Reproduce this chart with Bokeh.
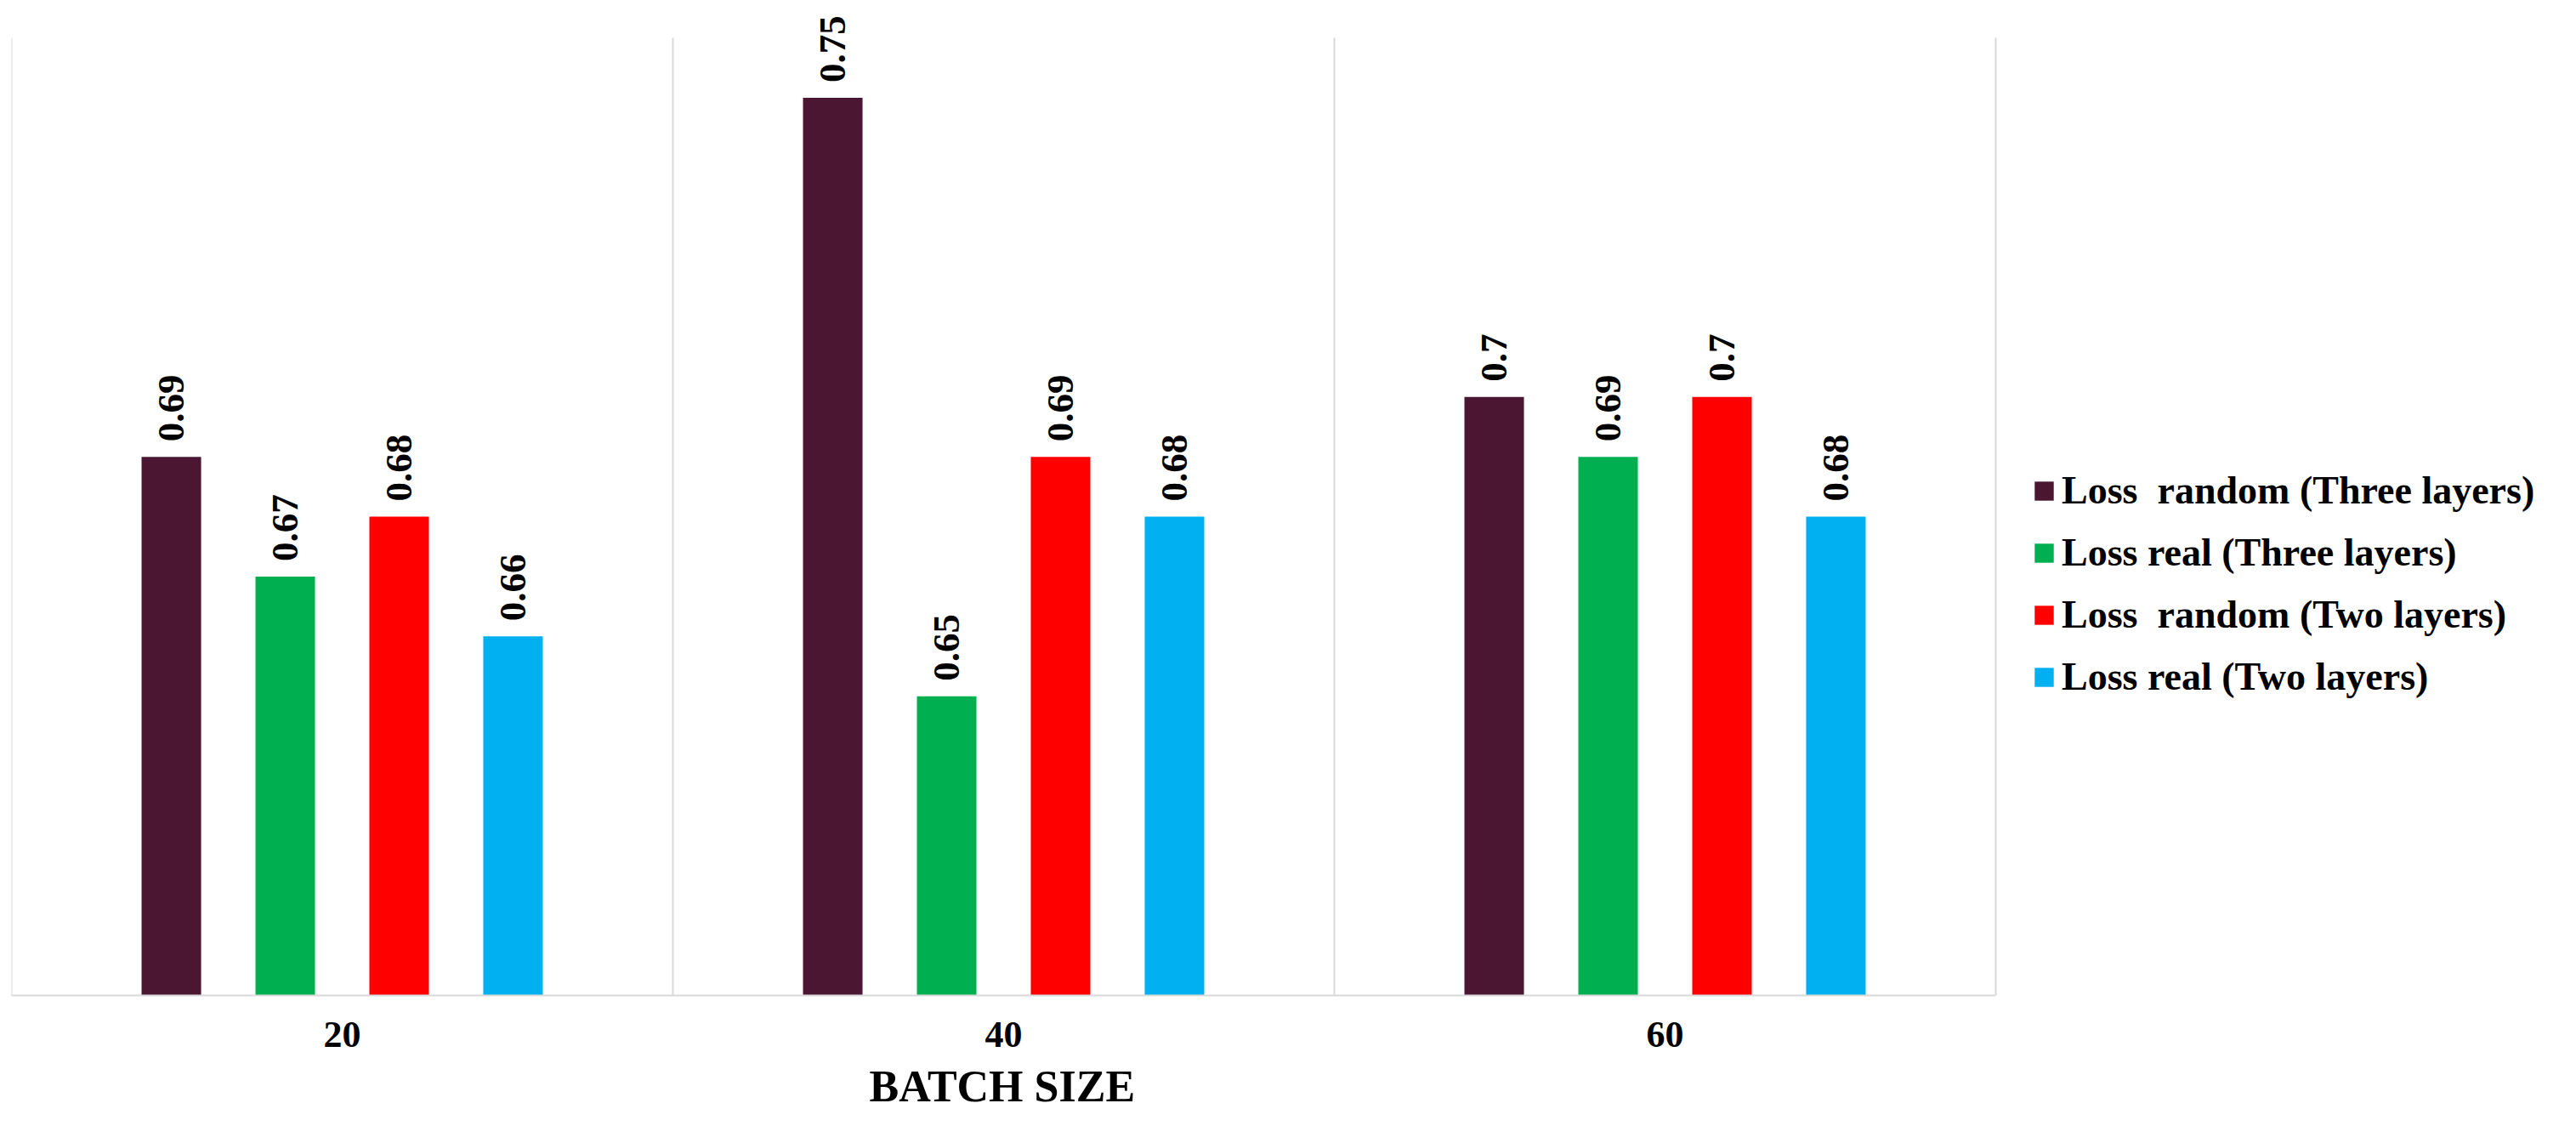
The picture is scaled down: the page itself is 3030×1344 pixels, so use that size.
import math
from bokeh.plotting import figure
from bokeh.models import Range1d, ColumnDataSource, Legend, LegendItem, FixedTicker, Title
from bokeh.core.properties import value
from bokeh.embed import file_html
from bokeh.resources import INLINE

# ---- data ----
batch_sizes = ["20", "40", "60"]
series_names = [
    "Loss  random (Three layers)",
    "Loss real (Three layers)",
    "Loss  random (Two layers)",
    "Loss real (Two layers)",
]
loss_random_three = [0.69, 0.75, 0.70]
loss_real_three = [0.67, 0.65, 0.69]
loss_random_two = [0.68, 0.69, 0.70]
loss_real_two = [0.66, 0.68, 0.68]
series_values = [loss_random_three, loss_real_three, loss_random_two, loss_real_two]
colors = ["#4B1632", "#00B050", "#FF0000", "#00B0F0"]
x_title = "BATCH SIZE"

Y_START, Y_GRID_TOP, Y_END = 0.6, 0.76, 0.7657
FONT = value("Liberation Serif")

n = len(batch_sizes)
cat_px = 778.0            # pixel width of one category group
frame_w = 3014 - 13 - 4
X_END = frame_w / cat_px  # extra room on the right holds the legend

p = figure(
    x_range=Range1d(0, X_END),
    y_range=Range1d(Y_START, Y_END),
    width=3014, height=1328,
    output_backend="svg", toolbar_location=None,
    y_axis_location=None,
    min_border_left=13, min_border_right=4,
    min_border_top=4, min_border_bottom=158,
)
p.outline_line_color = None
p.xgrid.visible = False
p.ygrid.visible = False
p.background_fill_color = "white"
p.border_fill_color = "white"

# category separators (between categories and at both ends)
sep_x = list(range(n + 1))
p.segment(x0=sep_x, x1=sep_x, y0=[Y_START] * (n + 1), y1=[Y_GRID_TOP] * (n + 1),
          line_color="#D9D9D9", line_width=2)

step = 0.1722
bar_w = 0.09
offsets = [(-1.5 + i) * step for i in range(4)]
centers = [i + 0.5 for i in range(n)]

items = []
for name, vals, col, off in zip(series_names, series_values, colors, offsets):
    src = ColumnDataSource(dict(
        x=[c + off for c in centers], val=vals, bot=[Y_START] * len(vals),
        lbl=[f"{v:g}" for v in vals],
    ))
    r = p.vbar(x="x", top="val", bottom="bot", width=bar_w, source=src,
               fill_color=col, line_color=None)
    p.text(x="x", y="val", text="lbl", source=src,
           angle=math.pi / 2, text_align="left", text_baseline="middle",
           y_offset=-18, text_font=FONT, text_font_style="bold",
           text_font_size="45px", text_color="#000000")
    items.append(LegendItem(label=name, renderers=[r]))

# x axis
ax = p.xaxis[0]
ax.bounds = (0, n)
ax.ticker = FixedTicker(ticks=centers)
ax.major_label_overrides = {c: b for c, b in zip(centers, batch_sizes)}
ax.axis_line_color = "#D9D9D9"
ax.axis_line_width = 2
ax.major_tick_line_color = None
ax.minor_tick_line_color = None
ax.major_tick_in = 0
ax.major_tick_out = 0
ax.major_label_standoff = 31
ax.major_label_text_font = "Liberation Serif"
ax.major_label_text_font_style = "bold"
ax.major_label_text_font_size = "44px"
ax.major_label_text_color = "#000000"

# axis title centred under the middle group (the frame also holds the legend)
title_w = 316
p.add_layout(Title(text=x_title, align="left", offset=1180 - 13 - title_w / 2,
                   vertical_align="top", standoff=30,
                   text_font="Liberation Serif", text_font_style="bold",
                   text_font_size="52px", text_color="#000000"), "below")

legend = Legend(
    items=items, location=(2377, 348),
    border_line_color=None, background_fill_alpha=0,
    padding=0, margin=0,
    glyph_width=28, glyph_height=28,
    label_standoff=7, label_height=52, spacing=20,
    label_text_font="Liberation Serif", label_text_font_style="bold",
    label_text_font_size="46px", label_text_color="#000000",
)
p.add_layout(legend, "center")

open("out.html", "w").write(file_html(p, INLINE))
